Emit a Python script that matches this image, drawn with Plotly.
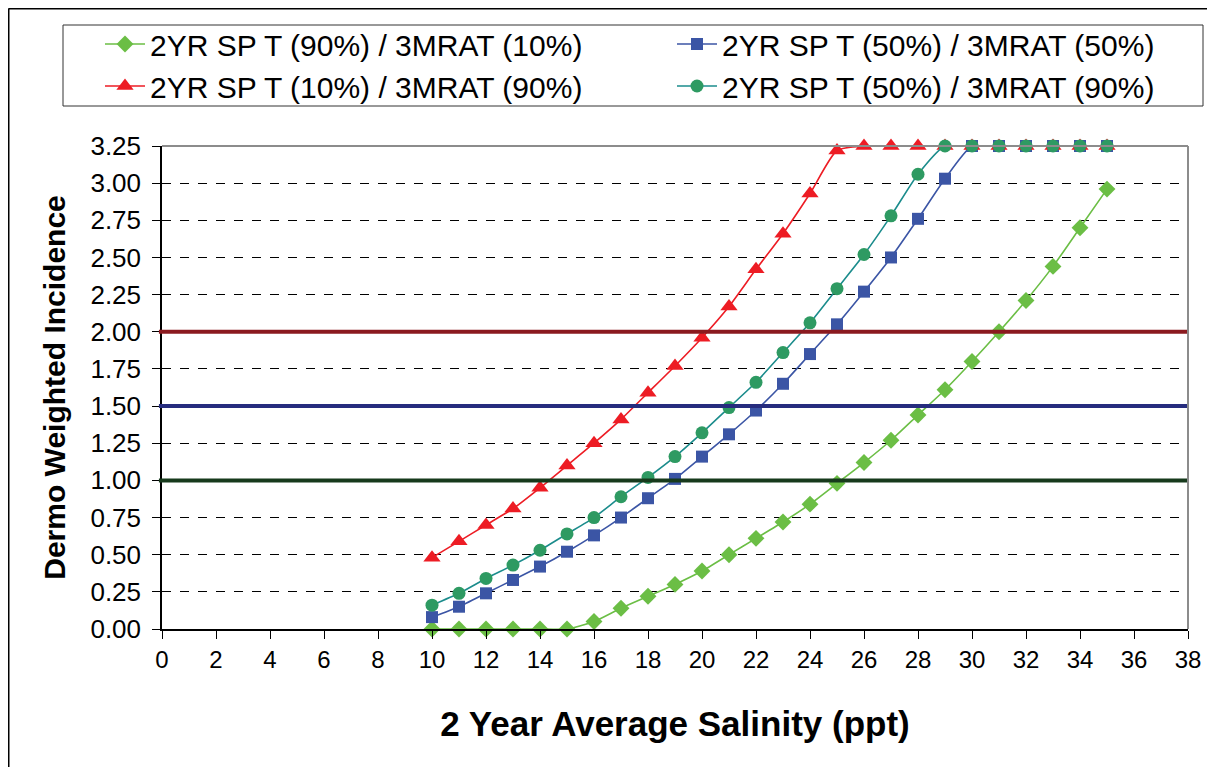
import plotly.graph_objects as go

salinity = list(range(10, 36))

names = [
    "2YR SP T (90%) / 3MRAT (10%)",
    "2YR SP T (50%) / 3MRAT (50%)",
    "2YR SP T (10%) / 3MRAT (90%)",
    "2YR SP T (50%) / 3MRAT (90%)",
]

sp90_rat10 = [0, 0, 0, 0, 0, 0, 0.05, 0.14, 0.22, 0.30, 0.39, 0.50, 0.61, 0.72, 0.84,
              0.98, 1.12, 1.27, 1.44, 1.61, 1.80, 2.00, 2.21, 2.44, 2.70, 2.96]
sp50_rat50 = [0.08, 0.15, 0.24, 0.33, 0.42, 0.52, 0.63, 0.75, 0.88, 1.01, 1.16, 1.31, 1.47,
              1.65, 1.85, 2.05, 2.27, 2.50, 2.76, 3.03, 3.25, 3.25, 3.25, 3.25, 3.25, 3.25]
sp10_rat90 = [0.48, 0.59, 0.70, 0.81, 0.95, 1.10, 1.25, 1.41, 1.59, 1.77, 1.96, 2.17, 2.42,
              2.66, 2.93, 3.22, 3.25, 3.25, 3.25, 3.25, 3.25, 3.25, 3.25, 3.25, 3.25, 3.25]
sp50_rat90 = [0.16, 0.24, 0.34, 0.43, 0.53, 0.64, 0.75, 0.89, 1.02, 1.16, 1.32, 1.49, 1.66,
              1.86, 2.06, 2.29, 2.52, 2.78, 3.06, 3.25, 3.25, 3.25, 3.25, 3.25, 3.25, 3.25]

thresholds = [2.0, 1.5, 1.0]
threshold_colors = ["#8B1A1F", "#262C7E", "#173A1C"]

y_ticks = [i * 0.25 for i in range(14)]
x_ticks = list(range(0, 40, 2))

FONT = "Liberation Sans, Arial, sans-serif"

# figure is offset 8px by the page body margin
W, H = 1207, 759
L, T, PW, PH = 154, 138, 1026, 483


def px(fx):
    return (fx - L) / PW


def py(fy):
    return (T + PH - fy) / PH


fig = go.Figure()

for y, c in zip(thresholds, threshold_colors):
    fig.add_shape(type="line", xref="paper", yref="y", x0=-0.003, x1=1.0, y0=y, y1=y,
                  line=dict(color=c, width=4), layer="above")

series = [
    (names[0], sp90_rat10, "#6BBE45", "#6BBE45", "diamond", 13),
    (names[1], sp50_rat50, "#3B55A5", "#3B55A5", "square", 12),
    (names[2], sp10_rat90, "#ED1C24", "#ED1C24", "triangle-up", 15),
    (names[3], sp50_rat90, "#1B8C8C", "#2E9A62", "circle", 13),
]

for name, vals, lc, mc, sym, sz in series:
    fig.add_trace(go.Scatter(
        x=salinity, y=vals, name=name, mode="lines+markers",
        line=dict(color=lc, width=1.6, shape="spline", smoothing=0.6),
        marker=dict(color=mc, symbol=sym, size=sz, line=dict(width=0)),
        cliponaxis=False,
    ))

# plot area border (top/right gray)
fig.add_shape(type="line", xref="paper", yref="paper", x0=0, x1=1, y0=1, y1=1,
              line=dict(color="#8C8C8C", width=2), layer="above")
fig.add_shape(type="line", xref="paper", yref="paper", x0=1, x1=1, y0=0, y1=1,
              line=dict(color="#8C8C8C", width=2), layer="above")
# outer chart border (top/left)
fig.add_shape(type="line", xref="paper", yref="paper", x0=px(0.5), x1=px(W + 10), y0=py(0.5), y1=py(0.5),
              line=dict(color="black", width=2), layer="above")
fig.add_shape(type="line", xref="paper", yref="paper", x0=px(0.5), x1=px(0.5), y0=py(H + 10), y1=py(0.5),
              line=dict(color="black", width=2), layer="above")
# legend box
fig.add_shape(type="rect", xref="paper", yref="paper", x0=px(55), x1=px(1195), y0=py(98), y1=py(17),
              line=dict(color="#333333", width=1), layer="above")

fig.update_layout(
    width=W, height=H,
    margin=dict(l=L, r=W - L - PW, t=T, b=H - T - PH, autoexpand=False),
    paper_bgcolor="white", plot_bgcolor="white",
    font=dict(family=FONT, color="black"),
    showlegend=True,
    legend=dict(
        orientation="h", x=px(92), y=py(10), xanchor="left", yanchor="top",
        font=dict(size=30, family=FONT),
        borderwidth=0, bgcolor="rgba(0,0,0,0)",
        entrywidth=517, entrywidthmode="pixels",
        itemwidth=40, traceorder="normal",
        tracegroupgap=0,
    ),
    xaxis=dict(
        range=[0, 38], tickvals=x_ticks, ticktext=[str(v) for v in x_ticks],
        showgrid=False, zeroline=False,
        showline=True, linecolor="black", linewidth=1.5,
        ticks="outside", ticklen=8, tickcolor="black",
        tickfont=dict(size=24, family=FONT),
        title=dict(text="<b>2 Year Average Salinity (ppt)</b>", font=dict(size=35, family=FONT), standoff=40),
    ),
    yaxis=dict(
        range=[0, 3.25], tickvals=y_ticks, ticktext=[f"{v:.2f}" for v in y_ticks],
        showgrid=True, gridcolor="black", gridwidth=1, griddash="dash",
        zeroline=False,
        showline=True, linecolor="black", linewidth=1.5,
        ticks="outside", ticklen=8, tickcolor="black", ticklabelstandoff=6,
        tickfont=dict(size=26, family=FONT),
        title=dict(text="<b>Dermo Weighted Incidence</b>", font=dict(size=30, family=FONT), standoff=16),
    ),
)

fig.write_html("out.html")
